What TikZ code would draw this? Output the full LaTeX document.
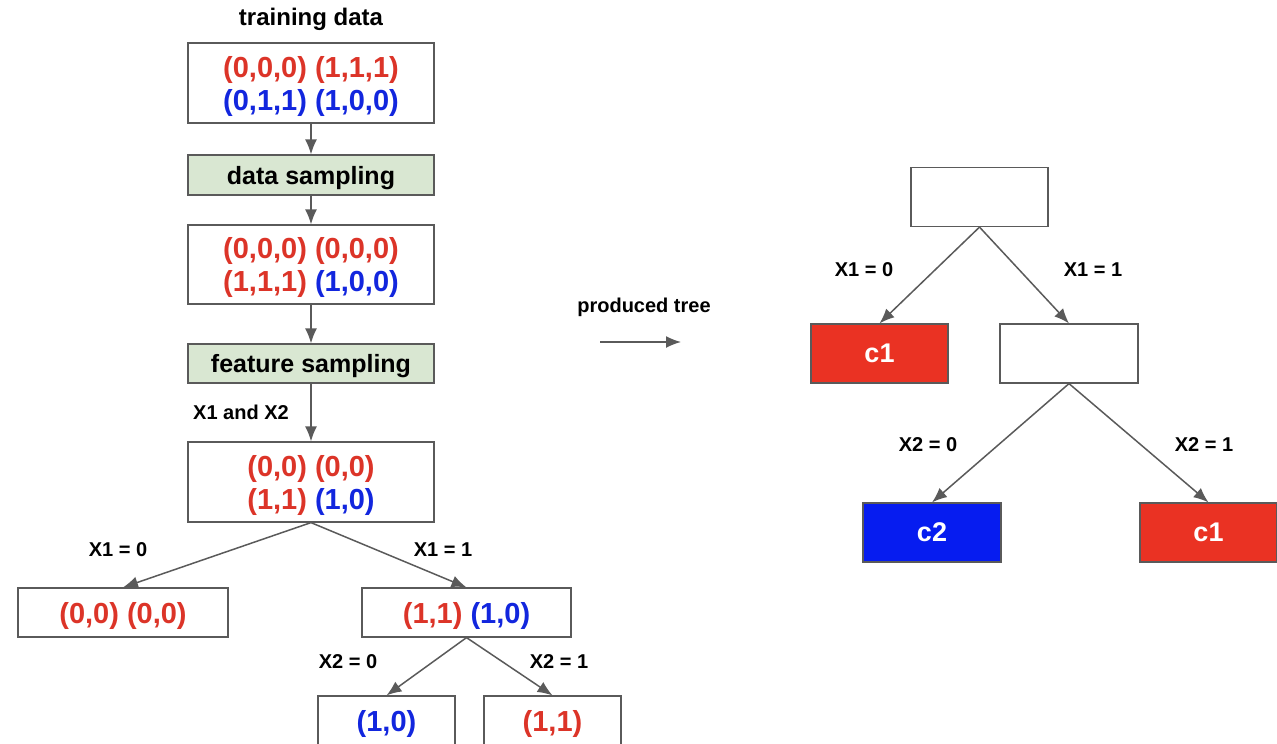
\documentclass[tikz,border=0pt]{standalone}
\usepackage{fontspec}
\setmainfont{Liberation Sans}
\usetikzlibrary{arrows.meta}

\definecolor{tred}{RGB}{220,52,40}
\definecolor{tblue}{RGB}{18,38,222}
\definecolor{fillred}{RGB}{234,50,35}
\definecolor{fillblue}{RGB}{6,28,240}
\definecolor{sampgreen}{RGB}{217,231,210}
\definecolor{edge}{RGB}{90,90,90}

\newcommand{\rd}[1]{\textcolor{tred}{#1}}
\newcommand{\bl}[1]{\textcolor{tblue}{#1}}

\tikzset{
  databox/.style={draw=edge, line width=1.2pt, fill=white, inner sep=0pt, align=center,
    text depth=0pt, font=\bfseries\fontsize{29}{33}\selectfont},
  sampbox/.style={draw=edge, line width=1.2pt, fill=sampgreen, inner sep=0pt, text depth=0pt,
    minimum width=246pt, minimum height=40pt, font=\bfseries\fontsize{25}{29}\selectfont},
  classbox/.style={draw=edge, line width=1.2pt, inner sep=0pt, text=white, text depth=0pt,
    minimum width=137pt, minimum height=59pt, font=\bfseries\fontsize{27}{30}\selectfont},
  lbl/.style={font=\bfseries\fontsize{20}{24}\selectfont},
  flow/.style={->, draw=edge, line width=1.5pt},
}

\begin{document}
\begin{tikzpicture}[x=1pt, y=-1pt, >={Latex[length=15pt,width=12pt]}]
  \useasboundingbox (0,0) rectangle (1277,744);

  % left: sampling pipeline
  \node[font=\bfseries\fontsize{24}{28}\selectfont] (title) at (311,19) {training data};
  \node[databox, minimum width=246pt, minimum height=80pt] (train) at (311,83)
    {\rd{(0,0,0) (1,1,1)}\\\bl{(0,1,1) (1,0,0)}};
  \node[sampbox] (dsamp) at (311,175) {data sampling};
  \node[databox, minimum width=246pt, minimum height=79pt] (bag) at (311,264.5)
    {\rd{(0,0,0) (0,0,0)}\\\rd{(1,1,1)} \bl{(1,0,0)}};
  \node[sampbox, minimum height=39pt] (fsamp) at (311,363.5) {feature sampling};
  \node[databox, minimum width=246pt, minimum height=80pt] (sub) at (311,482)
    {\rd{(0,0) (0,0)}\\\rd{(1,1)} \bl{(1,0)}};

  \draw[flow] (train) -- (dsamp);
  \draw[flow] (dsamp) -- (bag);
  \draw[flow] (bag) -- (fsamp);
  \draw[flow] (fsamp) -- (sub);
  \node[lbl] (feat) at (241,412) {X1 and X2};

  % left: splitting the subset
  \node[databox, minimum width=210pt, minimum height=49pt] (lzero) at (123,612.5) {\rd{(0,0) (0,0)}};
  \node[databox, minimum width=209pt, minimum height=49pt] (lone) at (466.5,612.5) {\rd{(1,1)} \bl{(1,0)}};
  \node[databox, minimum width=137pt, minimum height=50pt] (lonezero) at (386.5,721) {\bl{(1,0)}};
  \node[databox, minimum width=137pt, minimum height=50pt] (loneone) at (552.5,721) {\rd{(1,1)}};

  \draw[flow] (sub.south) -- (lzero.north);
  \draw[flow] (sub.south) -- (lone.north);
  \draw[flow] (lone.south) -- (lonezero.north);
  \draw[flow] (lone.south) -- (loneone.north);

  \node[lbl] (la) at (118,550) {X1 = 0};
  \node[lbl] (lb) at (443,550) {X1 = 1};
  \node[lbl] (lc) at (348,662) {X2 = 0};
  \node[lbl] (ld) at (559,662) {X2 = 1};

  % middle
  \node[lbl] (prod) at (644,307) {produced tree};
  \coordinate (pa) at (600,342);
  \coordinate (pb) at (681,342);
  \draw[flow] (pa) -- (pb);

  % right: produced tree
  \node[classbox, fill=white] (root) at (979.5,197) {};
  \node[classbox, fill=fillred] (cleft) at (879.5,353.5) {c1};
  \node[classbox, fill=white, minimum width=138pt] (mid) at (1069,353.5) {};
  \node[classbox, fill=fillblue, minimum width=138pt] (ctwo) at (932,532.5) {c2};
  \node[classbox, fill=fillred] (cright) at (1208.5,532.5) {c1};

  \draw[flow] (root.south) -- (cleft.north);
  \draw[flow] (root.south) -- (mid.north);
  \draw[flow] (mid.south) -- (ctwo.north);
  \draw[flow] (mid.south) -- (cright.north);

  \node[lbl] (ra) at (864,270) {X1 = 0};
  \node[lbl] (rb) at (1093,270) {X1 = 1};
  \node[lbl] (rc) at (928,445) {X2 = 0};
  \node[lbl] (rd) at (1204,445) {X2 = 1};
\end{tikzpicture}
\end{document}
